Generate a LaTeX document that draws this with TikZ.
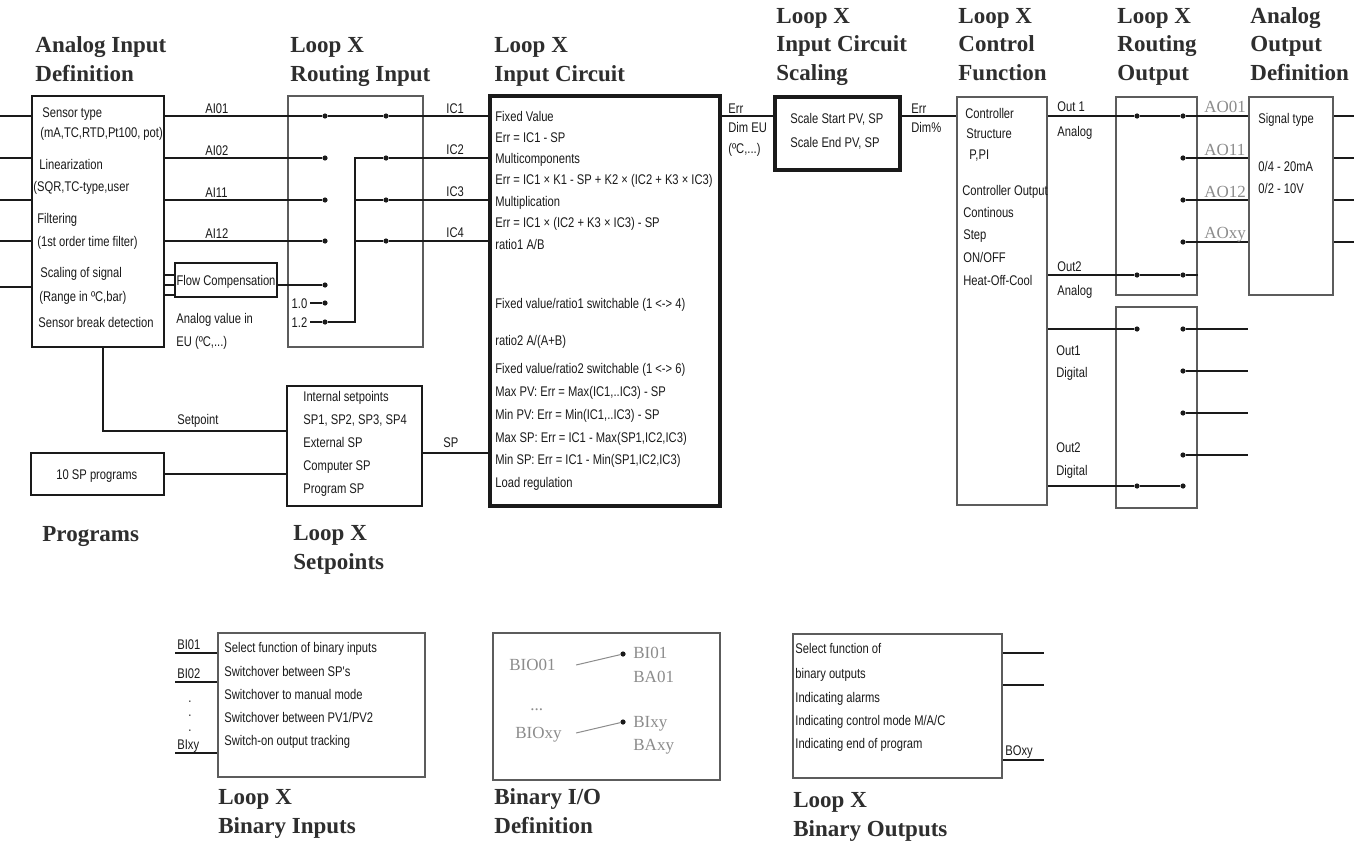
\documentclass[tikz,border=0pt]{standalone}
\usepackage{fontspec}
\setmainfont{Liberation Serif}
\newfontfamily\narrowfont[FakeStretch=0.8]{Liberation Sans}
\usetikzlibrary{positioning, calc, fit}
\definecolor{Ink}{HTML}{1A1A1A}
\definecolor{Frame}{HTML}{5C5C5C}
\definecolor{Head}{HTML}{2E2E2E}
\definecolor{Pale}{HTML}{8C8C8C}
\tikzset{
    head/.style={anchor=base west, inner sep=0pt, align=left, text=Head, font=\bfseries\fontsize{11.5}{14.2}\selectfont},
    txt/.style={anchor=west, inner sep=0pt, text height=5pt, text depth=0pt, text=Ink, font=\narrowfont\fontsize{7}{8}\selectfont},
    pale/.style={anchor=west, inner sep=0pt, text height=5pt, text depth=0pt, text=Pale, font=\fontsize{8.5}{9}\selectfont},
    frame/.style={draw=Frame, line width=1pt, inner sep=0pt},
    darkframe/.style={draw=Ink, line width=0.9pt, inner sep=0pt},
    heavyframe/.style={draw=Ink, line width=1.6pt, inner sep=0pt},
    wire/.style={draw=Ink, line width=0.7pt},
    pin/.style={circle, fill=Ink, inner sep=0pt, minimum size=2.6pt},
}

\begin{document}
\begin{tikzpicture}[x=0.5pt, y=-0.5pt]
    \path[use as bounding box, fill=white] (0,0) rectangle (1355,851);

    % Blocchi
    \node[darkframe, fit={(32,96) (164,347)}] (aid) {};
    \node[darkframe, fit={(175,263) (277,297)}] (flow) {};
    \node[frame, fit={(288,96) (423,347)}] (rin) {};
    \node[heavyframe, fit={(490,96) (720,506)}] (icirc) {};
    \node[heavyframe, fit={(775,97) (900,170)}] (scal) {};
    \node[frame, fit={(957,97) (1047,505)}] (ctrl) {};
    \node[frame, fit={(1116,97) (1197,295)}] (rout) {};
    \node[frame, fit={(1249,97) (1333,295)}] (aout) {};
    \node[frame, fit={(1116,307) (1197,508)}] (rdig) {};
    \node[darkframe, fit={(287,386) (422,506)}] (setp) {};
    \node[darkframe, fit={(31,453) (164,495)}] (prog) {};
    \node[frame, fit={(218,633) (425,777)}] (binp) {};
    \node[frame, fit={(493,633) (720,780)}] (bio) {};
    \node[frame, fit={(793,634) (1002,778)}] (bout) {};

    % Titoli (base = ultima riga)
    \node[head] (hAid) at (35,81) {Analog Input\\Definition};
    \node[head] (hRin) at (290,81) {Loop X\\Routing Input};
    \node[head] (hIc) at (494,81) {Loop X\\Input Circuit};
    \node[head] (hScal) at (776,80) {Loop X\\Input Circuit\\Scaling};
    \node[head] (hCtrl) at (958,80) {Loop X\\Control\\Function};
    \node[head] (hRout) at (1117,80) {Loop X\\Routing\\Output};
    \node[head] (hAout) at (1250,80) {Analog\\Output\\Definition};
    \node[head] (hProg) at (42,541) {Programs};
    \node[head] (hSetp) at (293,569) {Loop X\\Setpoints};
    \node[head] (hBinp) at (218,833) {Loop X\\Binary Inputs};
    \node[head] (hBio) at (494,833) {Binary I/O\\Definition};
    \node[head] (hBout) at (793,836) {Loop X\\Binary Outputs};

    % Testi nei blocchi
    \foreach \x/\y/\lbl [count=\i] in {42/112/{Sensor type}, 40/132/{(mA,TC,RTD,Pt100, pot)}, 39/164/{Linearization}, 33/186/{(SQR,TC-type,user}, 37/218/{Filtering}, 37/241/{(1st order time filter)}, 40/272/{Scaling of signal}, 39/296/{(Range in ºC,bar)}, 38/322/{Sensor break detection}}
        \node[txt] (aidt\i) at (\x,\y) {\lbl};
    \node[txt, anchor=center] (flowt) at (flow.center) {Flow Compensation};
    \node[txt] (euA) at (176,318) {Analog value in};
    \node[txt] (euB) at (176,341) {EU (ºC,...)};
    \foreach \y/\lbl [count=\i] in {116/{Fixed Value}, 137/{Err = IC1 - SP}, 158/{Multicomponents}, 179/{Err = IC1 × K1 - SP + K2 × (IC2 + K3 × IC3)}, 201/{Multiplication}, 222/{Err = IC1 × (IC2 + K3 × IC3) - SP}, 244/{ratio1 A/B}, 303/{Fixed value/ratio1 switchable (1 <-> 4)}, 340/{ratio2 A/(A+B)}, 368/{Fixed value/ratio2 switchable (1 <-> 6)}, 391/{Max PV: Err = Max(IC1,..IC3) - SP}, 414/{Min PV: Err = Min(IC1,..IC3) - SP}, 437/{Max SP: Err = IC1 - Max(SP1,IC2,IC3)}, 459/{Min SP: Err = IC1 - Min(SP1,IC2,IC3)}, 482/{Load regulation}}
        \node[txt] (ict\i) at (495,\y) {\lbl};
    \node[txt] (scA) at (790,118) {Scale Start PV, SP};
    \node[txt] (scB) at (790,142) {Scale End PV, SP};
    \foreach \x/\y/\lbl [count=\i] in {965/113/{Controller}, 966/133/{Structure}, 969/154/{P,PI}, 962/190/{Controller Output}, 963/212/{Continous}, 963/234/{Step}, 963/257/{ON/OFF}, 963/280/{Heat-Off-Cool}}
        \node[txt] (cft\i) at (\x,\y) {\lbl};
    \node[txt] (aoA) at (1258,118) {Signal type};
    \node[txt] (aoB) at (1258,166) {0/4 - 20mA};
    \node[txt] (aoC) at (1258,188) {0/2 - 10V};
    \foreach \y/\lbl [count=\i] in {396/{Internal setpoints}, 419/{SP1, SP2, SP3, SP4}, 442/{External SP}, 465/{Computer SP}, 488/{Program SP}}
        \node[txt] (spt\i) at (303,\y) {\lbl};
    \node[txt] (progt) at (56,474) {10 SP programs};
    \foreach \y/\lbl [count=\i] in {647/{Select function of binary inputs}, 671/{Switchover between SP's}, 694/{Switchover to manual mode}, 717/{Switchover between PV1/PV2}, 740/{Switch-on output tracking}}
        \node[txt] (bit\i) at (224,\y) {\lbl};
    \foreach \y/\lbl [count=\i] in {648/{Select function of}, 673/{binary outputs}, 697/{Indicating alarms}, 720/{Indicating control mode M/A/C}, 743/{Indicating end of program}}
        \node[txt] (bot\i) at (795,\y) {\lbl};

    % Routing input
    \foreach \y [count=\i] in {116,158,200,241,285,303,322}
        \node[pin] (pa\i) at (325,\y) {};
    \foreach \y [count=\i] in {116,158,200,241}
        \node[pin] (pb\i) at (386,\y) {};
    \coordinate (bus) at (355,322);
    \foreach \y in {116,158,200,241,287}
        \draw[wire] (aid.west |- 0,\y) -- ++(-32,0);
    \draw[wire] (aid.east |- pa1) -- (pa1) -- (pb1) -- (icirc.west |- pb1);
    \foreach \i in {2,3,4}
        \draw[wire] (aid.east |- pa\i) -- (pa\i);
    \foreach \y in {275,285,295}
        \draw[wire] (aid.east |- 0,\y) -- (flow.west |- 0,\y);
    \draw[wire] (flow.east |- pa5) -- (pa5);
    \draw[wire] (pa6) -- ++(-15,0) node[txt, anchor=east, xshift=-1pt] (one) {1.0};
    \draw[wire] (pa7) -- ++(-15,0) node[txt, anchor=east, xshift=-1pt] (onetwo) {1.2};
    \draw[wire] (pa7) -- (bus) -- (bus |- pb2) -- (pb2) -- (icirc.west |- pb2);
    \draw[wire] (bus |- pb3) -- (pb3) -- (icirc.west |- pb3);
    \draw[wire] (bus |- pb4) -- (pb4) -- (icirc.west |- pb4);
    \foreach \y/\lbl [count=\i] in {108/AI01, 150/AI02, 192/AI11, 233/AI12}
        \node[txt] (ai\i) at (205,\y) {\lbl};
    \foreach \y/\lbl [count=\i] in {108/IC1, 149/IC2, 191/IC3, 232/IC4}
        \node[txt] (icl\i) at (446,\y) {\lbl};

    % Setpoint
    \coordinate (tap) at (103,431);
    \draw[wire] (aid.south -| tap) -- (tap) -- (setp.west |- tap);
    \node[txt] (tapl) at (177,419) {Setpoint};
    \draw[wire] (prog.east |- 0,474) -- (setp.west |- 0,474);
    \draw[wire] (setp.east |- 0,453) -- (icirc.west |- 0,453);
    \node[txt] (spl) at (443,442) {SP};

    % Err
    \draw[wire] (icirc.east |- 0,116) -- (scal.west |- 0,116);
    \node[txt] (errA) at (728,108) {Err};
    \node[txt] (errB) at (728,127) {Dim EU};
    \node[txt] (errC) at (728,148) {(ºC,...)};
    \draw[wire] (scal.east |- 0,116) -- (ctrl.west |- 0,116);
    \node[txt] (errD) at (911,108) {Err};
    \node[txt] (errE) at (911,127) {Dim\%};

    % Routing output
    \node[pin] (qa1) at (1137,116) {};
    \node[pin] (qa2) at (1137,275) {};
    \foreach \y [count=\i] in {116,158,200,242,275}
        \node[pin] (qb\i) at (1183,\y) {};
    \draw[wire] (ctrl.east |- qa1) -- (qa1) -- (qb1) -- (aout.west |- qb1);
    \foreach \i in {2,3,4}
        \draw[wire] (qb\i) -- (aout.west |- qb\i);
    \draw[wire] (ctrl.east |- qa2) -- (qa2) -- (qb5) -- (rout.east |- qb5);
    \foreach \y in {116,158,200,242}
        \draw[wire] (aout.east |- 0,\y) -- ++(20,0);
    \node[txt] (o1a) at (1057,106) {Out 1};
    \node[txt] (o1b) at (1057,131) {Analog};
    \node[txt] (o2a) at (1057,266) {Out2};
    \node[txt] (o2b) at (1057,290) {Analog};
    \foreach \y/\lbl [count=\i] in {107/AO01, 150/AO11, 192/AO12, 233/AOxy}
        \node[pale] (aol\i) at (1204,\y) {\lbl};

    % Routing digitale
    \node[pin] (da1) at (1137,329) {};
    \node[pin] (da2) at (1137,486) {};
    \foreach \y [count=\i] in {329,371,413,455,486}
        \node[pin] (db\i) at (1183,\y) {};
    \draw[wire] (ctrl.east |- da1) -- (da1);
    \foreach \i in {1,...,4}
        \draw[wire] (db\i) -- ++(65,0);
    \draw[wire] (ctrl.east |- da2) -- (da2) -- (db5);
    \node[txt] (d1a) at (1056,350) {Out1};
    \node[txt] (d1b) at (1056,372) {Digital};
    \node[txt] (d2a) at (1056,447) {Out2};
    \node[txt] (d2b) at (1056,470) {Digital};

    % Ingressi binari
    \foreach \y/\lbl [count=\i] in {653/BI01, 682/BI02, 753/BIxy} {
        \draw[wire] (binp.west |- 0,\y) -- ++(-42,0);
        \node[txt] (bil\i) at (177,\y-9) {\lbl};
    }
    \foreach \y [count=\i] in {697,711,726}
        \node[txt, anchor=center] (bidot\i) at (190,\y) {.};

    % Binary I/O
    \node[pale] (bioA) at (509,665) {BIO01};
    \node[pale] (bioB) at (530,705) {...};
    \node[pale] (bioC) at (515,733) {BIOxy};
    \node[pin] (bio1) at (623,654) {};
    \node[pin] (bio2) at (623,722) {};
    \draw[Pale, line width=0.5pt] ([xshift=10pt]bioA.east) -- (bio1);
    \draw[Pale, line width=0.5pt] ([xshift=7pt]bioC.east) -- (bio2);
    \node[pale] (bioD) at (633,653) {BI01};
    \node[pale] (bioE) at (633,677) {BA01};
    \node[pale] (bioF) at (633,722) {BIxy};
    \node[pale] (bioG) at (633,745) {BAxy};

    % Uscite binarie
    \foreach \y in {653,685,760}
        \draw[wire] (bout.east |- 0,\y) -- ++(41,0);
    \node[txt] (bol) at (1005,750) {BOxy};
\end{tikzpicture}
\end{document}
